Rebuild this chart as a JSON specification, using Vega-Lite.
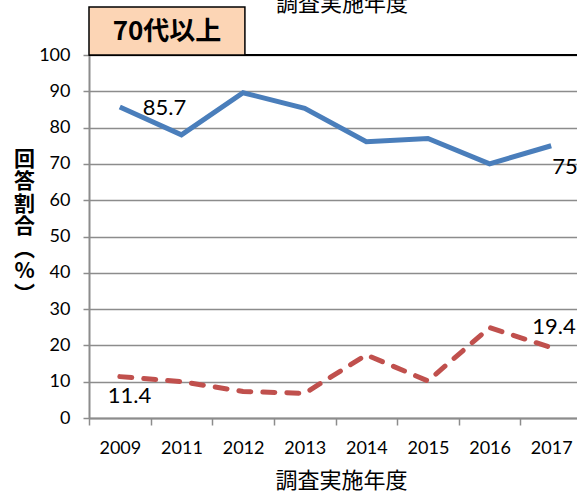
{
  "$schema": "https://vega.github.io/schema/vega-lite/v6.json",
  "width": 493,
  "height": 363,
  "autosize": {"type": "none"},
  "padding": {"left": 89, "top": 55, "right": 0, "bottom": 78},
  "background": "white",
  "config": {
    "view": {"stroke": null},
    "font": "Lato",
    "axisY": {
      "values": [0, 10, 20, 30, 40, 50, 60, 70, 80, 90, 100],
      "labelOverlap": false,
      "grid": true,
      "gridColor": "#8c8c8c",
      "gridWidth": 1.3,
      "domainColor": "#8c8c8c",
      "domainWidth": 2,
      "tickColor": "#8c8c8c",
      "tickWidth": 1.5,
      "tickSize": 6,
      "labelFont": "Lato",
      "labelFontSize": 18,
      "labelColor": "black",
      "labelPadding": 13,
      "titleFont": "Noto Sans CJK JP",
      "titleFontSize": 21,
      "titleFontWeight": "bold",
      "titleColor": "black",
      "titleAngle": 0,
      "titleAlign": "center",
      "titleBaseline": "top",
      "titleLineHeight": 22.5,
      "titleX": -65,
      "titleY": 93
    }
  },
  "data": {
    "values": [
      {"year": "2009", "series": "系列1", "value": 85.7},
      {"year": "2011", "series": "系列1", "value": 78},
      {"year": "2012", "series": "系列1", "value": 89.6},
      {"year": "2013", "series": "系列1", "value": 85.3},
      {"year": "2014", "series": "系列1", "value": 76.1},
      {"year": "2015", "series": "系列1", "value": 77},
      {"year": "2016", "series": "系列1", "value": 70},
      {"year": "2017", "series": "系列1", "value": 75},
      {"year": "2009", "series": "系列2", "value": 11.4},
      {"year": "2011", "series": "系列2", "value": 10},
      {"year": "2012", "series": "系列2", "value": 7.3},
      {"year": "2013", "series": "系列2", "value": 6.8},
      {"year": "2014", "series": "系列2", "value": 17.4},
      {"year": "2015", "series": "系列2", "value": 10.2},
      {"year": "2016", "series": "系列2", "value": 24.9},
      {"year": "2017", "series": "系列2", "value": 19.4}
    ]
  },
  "layer": [
    {
      "encoding": {
        "x": {
          "field": "year",
          "type": "nominal",
          "scale": {"paddingInner": 0, "paddingOuter": 0},
          "axis": {
            "tickBand": "extent",
            "grid": false,
            "domainColor": "#8c8c8c",
            "domainWidth": 2,
            "tickColor": "#8c8c8c",
            "tickWidth": 1.5,
            "tickSize": 7,
            "labelAngle": 0,
            "labelFont": "Lato",
            "labelFontSize": 18,
            "labelColor": "black",
            "labelPadding": 14,
            "labelOverlap": false,
            "title": "調査実施年度",
            "titleFont": "Noto Sans CJK JP",
            "titleFontSize": 22,
            "titleFontWeight": "normal",
            "titleColor": "black",
            "titlePadding": 13,
            "titleX": 252
          }
        },
        "y": {
          "field": "value",
          "type": "quantitative",
          "scale": {"domain": [0, 100], "nice": false},
          "axis": {"title": ["回", "答", "割", "合", "︵", "%", "︶"]}
        }
      },
      "layer": [
        {
          "transform": [{"filter": "datum.series === '系列1'"}],
          "mark": {"type": "line", "color": "#4A7EBB", "strokeWidth": 5, "strokeJoin": "miter"}
        },
        {
          "transform": [{"filter": "datum.series === '系列2'"}],
          "mark": {"type": "line", "color": "#C0504D", "strokeWidth": 5, "strokeDash": [12, 12], "strokeCap": "round"}
        },
        {
          "transform": [{"filter": "datum.series === '系列1' && datum.year === '2009'"}],
          "mark": {"type": "text", "align": "left", "baseline": "middle", "dx": 23, "dy": 1, "fontSize": 22, "font": "Lato", "color": "black"},
          "encoding": {"text": {"field": "value", "type": "quantitative"}}
        },
        {
          "transform": [{"filter": "datum.series === '系列1' && datum.year === '2017'"}],
          "mark": {"type": "text", "align": "left", "baseline": "middle", "dx": 1, "dy": 21, "fontSize": 22, "font": "Lato", "color": "black"},
          "encoding": {"text": {"field": "value", "type": "quantitative"}}
        },
        {
          "transform": [{"filter": "datum.series === '系列2' && datum.year === '2009'"}],
          "mark": {"type": "text", "align": "left", "baseline": "middle", "dx": -12, "dy": 19, "fontSize": 22, "font": "Lato", "color": "black"},
          "encoding": {"text": {"field": "value", "type": "quantitative"}}
        },
        {
          "transform": [{"filter": "datum.series === '系列2' && datum.year === '2017'"}],
          "mark": {"type": "text", "align": "left", "baseline": "middle", "dx": -19, "dy": -21, "fontSize": 22, "font": "Lato", "color": "black"},
          "encoding": {"text": {"field": "value", "type": "quantitative"}}
        }
      ]
    },
    {
      "data": {"values": [{}]},
      "layer": [
        {
          "mark": {"type": "rule", "color": "black", "strokeWidth": 2},
          "encoding": {"y": {"datum": 100, "type": "quantitative", "scale": {"domain": [0, 100], "nice": false}, "axis": {"title": ["回", "答", "割", "合", "︵", "%", "︶"]}}}
        },
        {
          "mark": {"type": "rect", "fill": "#FCD5B5", "stroke": "black", "strokeWidth": 1.5, "clip": false},
          "encoding": {
            "x": {"datum": 0, "type": "quantitative", "scale": {"domain": [0, 8], "nice": false, "zero": false}, "axis": null},
            "x2": {"datum": 2.53},
            "y": {"datum": 113.2, "type": "quantitative", "scale": {"domain": [0, 100], "nice": false}, "axis": {"title": ["回", "答", "割", "合", "︵", "%", "︶"]}},
            "y2": {"datum": 100}
          }
        },
        {
          "mark": {"type": "text", "align": "center", "baseline": "middle", "font": "Noto Sans CJK JP", "fontWeight": "bold", "fontSize": 26, "color": "black", "clip": false},
          "encoding": {
            "x": {"datum": 1.266, "type": "quantitative", "scale": {"domain": [0, 8], "nice": false, "zero": false}, "axis": null},
            "y": {"datum": 106.3, "type": "quantitative", "scale": {"domain": [0, 100], "nice": false}, "axis": {"title": ["回", "答", "割", "合", "︵", "%", "︶"]}},
            "text": {"value": "70代以上"}
          }
        },
        {
          "mark": {"type": "text", "align": "center", "baseline": "bottom", "font": "Noto Sans CJK JP", "fontWeight": "normal", "fontSize": 22, "color": "black", "clip": false},
          "encoding": {
            "x": {"datum": 4.105, "type": "quantitative", "scale": {"domain": [0, 8], "nice": false, "zero": false}, "axis": null},
            "y": {"datum": 110.8, "type": "quantitative", "scale": {"domain": [0, 100], "nice": false}, "axis": {"title": ["回", "答", "割", "合", "︵", "%", "︶"]}},
            "text": {"value": "調査実施年度"}
          }
        }
      ]
    }
  ],
  "resolve": {"scale": {"x": "independent"}}
}
